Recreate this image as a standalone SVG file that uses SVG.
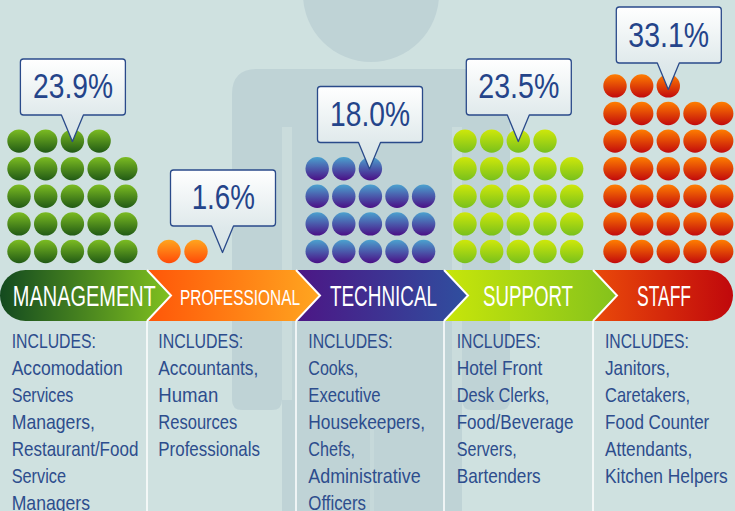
<svg xmlns="http://www.w3.org/2000/svg" width="735" height="511" viewBox="0 0 735 511">
<defs>
<style>
.pct{font-family:"Liberation Sans Narrow","Liberation Sans",Arial,sans-serif;font-size:35px;fill:#24448a;text-anchor:middle}
.lbl{font-family:"Liberation Sans Narrow","Liberation Sans",Arial,sans-serif;font-size:29px;fill:#ffffff;text-anchor:middle}
.desc{font-family:"Liberation Sans Narrow","Liberation Sans",Arial,sans-serif;font-size:21px;fill:#2d4d8d}
.bub{fill:url(#gBub);stroke:#2a4a8a;stroke-width:1.3;stroke-linejoin:round}
.sep{fill:none;stroke:#ffffff;stroke-width:2}
.sepl{stroke:#ffffff;stroke-opacity:0.75;stroke-width:2}
.sil{fill:#bfd3d6}
</style>
<linearGradient id="gBub" x1="0" y1="0" x2="0" y2="1"><stop offset="0" stop-color="#ffffff"/><stop offset="0.7" stop-color="#dfe9eb"/><stop offset="1" stop-color="#d6e4e6"/></linearGradient>
<linearGradient id="dM" x1="0" y1="0" x2="0" y2="1"><stop offset="0" stop-color="#7cbc22"/><stop offset="1" stop-color="#215a15"/></linearGradient>
<linearGradient id="dP" x1="0" y1="0" x2="0" y2="1"><stop offset="0" stop-color="#ffa51e"/><stop offset="1" stop-color="#ff4a08"/></linearGradient>
<linearGradient id="dT" x1="0" y1="0" x2="0" y2="1"><stop offset="0" stop-color="#4ba2cf"/><stop offset="1" stop-color="#4a0f86"/></linearGradient>
<linearGradient id="dS" x1="0" y1="0" x2="0" y2="1"><stop offset="0" stop-color="#cfe80a"/><stop offset="1" stop-color="#78c01c"/></linearGradient>
<linearGradient id="dF" x1="0" y1="0" x2="0" y2="1"><stop offset="0" stop-color="#ff7e00"/><stop offset="1" stop-color="#c20a0c"/></linearGradient>
<linearGradient id="bM" x1="0" y1="0" x2="1" y2="0"><stop offset="0" stop-color="#134a1f"/><stop offset="1" stop-color="#80c11f"/></linearGradient>
<linearGradient id="bP" x1="0" y1="0" x2="1" y2="0"><stop offset="0" stop-color="#ff5608"/><stop offset="1" stop-color="#ffa620"/></linearGradient>
<linearGradient id="bT" x1="0" y1="0" x2="1" y2="0"><stop offset="0" stop-color="#4c1685"/><stop offset="1" stop-color="#2f4f9f"/></linearGradient>
<linearGradient id="bS" x1="0" y1="0" x2="1" y2="0"><stop offset="0" stop-color="#c8e60a"/><stop offset="1" stop-color="#84c21c"/></linearGradient>
<linearGradient id="bF" x1="0" y1="0" x2="1" y2="0"><stop offset="0" stop-color="#ea4a0a"/><stop offset="1" stop-color="#c0080c"/></linearGradient>
<path id="bubble" d="M -49,-82.5 H 50 Q 53,-82.5 53,-79.5 V -29.5 Q 53,-26.5 50,-26.5 H 11 L 0,0 L -11,-26.5 H -49 Q -52,-26.5 -52,-29.5 V -79.5 Q -52,-82.5 -49,-82.5 Z"/>
</defs>

<rect x="0" y="0" width="735" height="511" fill="#cfe1e0"/>
<g id="silhouette">
<ellipse class="sil" cx="371" cy="-6" rx="68" ry="68"/>
<path class="sil" d="M 257,69 H 485 Q 510,69 510,94 V 400 Q 510,410 500,410 H 472 Q 462,410 462,400 V 511 H 282 V 400 Q 282,410 272,410 H 242 Q 232,410 232,400 V 94 Q 232,69 257,69 Z"/>
<rect x="282" y="127" width="10" height="273" fill="#cadcdc"/>
<rect x="452" y="127" width="10" height="273" fill="#cadcdc"/>
<rect x="292" y="320" width="160" height="191" class="sil"/>
<rect x="370" y="420" width="4" height="91" fill="#c6d9da"/>
</g>

<g id="management">
<path d="M 25.5,270 H 147 L 171,295.5 L 147,321 H 25.5 A 25.5,25.5 0 0 1 25.5,270 Z" fill="url(#bM)"/>
<g fill="url(#dM)">
<circle cx="19" cy="141.1" r="11.7"/><circle cx="45.7" cy="141.1" r="11.7"/><circle cx="72.4" cy="141.1" r="11.7"/><circle cx="99.1" cy="141.1" r="11.7"/>
<circle cx="19" cy="168.7" r="11.7"/><circle cx="45.7" cy="168.7" r="11.7"/><circle cx="72.4" cy="168.7" r="11.7"/><circle cx="99.1" cy="168.7" r="11.7"/><circle cx="125.8" cy="168.7" r="11.7"/>
<circle cx="19" cy="196.3" r="11.7"/><circle cx="45.7" cy="196.3" r="11.7"/><circle cx="72.4" cy="196.3" r="11.7"/><circle cx="99.1" cy="196.3" r="11.7"/><circle cx="125.8" cy="196.3" r="11.7"/>
<circle cx="19" cy="223.9" r="11.7"/><circle cx="45.7" cy="223.9" r="11.7"/><circle cx="72.4" cy="223.9" r="11.7"/><circle cx="99.1" cy="223.9" r="11.7"/><circle cx="125.8" cy="223.9" r="11.7"/>
<circle cx="19" cy="251.5" r="11.7"/><circle cx="45.7" cy="251.5" r="11.7"/><circle cx="72.4" cy="251.5" r="11.7"/><circle cx="99.1" cy="251.5" r="11.7"/><circle cx="125.8" cy="251.5" r="11.7"/>
</g>
<use href="#bubble" class="bub" transform="translate(72.4,141.5)"/>
<text class="pct" x="73" y="98" textLength="80" lengthAdjust="spacingAndGlyphs">23.9%</text>
<text class="lbl" x="84.3" y="306" textLength="143" lengthAdjust="spacingAndGlyphs">MANAGEMENT</text>
<text class="desc" x="11.7" y="347.5" textLength="84.3" lengthAdjust="spacingAndGlyphs">INCLUDES:</text>
<text class="desc" x="11.7" y="374.5" textLength="111" lengthAdjust="spacingAndGlyphs">Accomodation</text>
<text class="desc" x="11.7" y="401.5" textLength="61.7" lengthAdjust="spacingAndGlyphs">Services</text>
<text class="desc" x="11.7" y="428.5" textLength="83.3" lengthAdjust="spacingAndGlyphs">Managers,</text>
<text class="desc" x="11.7" y="455.5" textLength="126.7" lengthAdjust="spacingAndGlyphs">Restaurant/Food</text>
<text class="desc" x="11.7" y="482.5" textLength="54.3" lengthAdjust="spacingAndGlyphs">Service</text>
<text class="desc" x="11.7" y="509.5" textLength="78.3" lengthAdjust="spacingAndGlyphs">Managers</text>
</g>

<g id="professional">
<path d="M 147,270 H 296 L 320,295.5 L 296,321 H 147 L 171,295.5 Z" fill="url(#bP)"/>
<g fill="url(#dP)">
<circle cx="169" cy="251.5" r="11.7"/><circle cx="196" cy="251.5" r="11.7"/>
</g>
<use href="#bubble" class="bub" transform="translate(222.5,252.5)"/>
<text class="pct" x="223.3" y="209" textLength="63.3" lengthAdjust="spacingAndGlyphs">1.6%</text>
<text class="lbl" x="240" y="304.5" style="font-size:22px" textLength="120" lengthAdjust="spacingAndGlyphs">PROFESSIONAL</text>
<text class="desc" x="158.3" y="347.5" textLength="85" lengthAdjust="spacingAndGlyphs">INCLUDES:</text>
<text class="desc" x="158.3" y="374.5" textLength="100" lengthAdjust="spacingAndGlyphs">Accountants,</text>
<text class="desc" x="158.3" y="401.5" textLength="60" lengthAdjust="spacingAndGlyphs">Human</text>
<text class="desc" x="158.3" y="428.5" textLength="79" lengthAdjust="spacingAndGlyphs">Resources</text>
<text class="desc" x="158.3" y="455.5" textLength="101.7" lengthAdjust="spacingAndGlyphs">Professionals</text>
</g>

<g id="technical">
<path d="M 296,270 H 444 L 468,295.5 L 444,321 H 296 L 320,295.5 Z" fill="url(#bT)"/>
<g fill="url(#dT)">
<circle cx="317.2" cy="168.7" r="11.7"/><circle cx="343.8" cy="168.7" r="11.7"/><circle cx="370.4" cy="168.7" r="11.7"/>
<circle cx="317.2" cy="196.3" r="11.7"/><circle cx="343.8" cy="196.3" r="11.7"/><circle cx="370.4" cy="196.3" r="11.7"/><circle cx="397" cy="196.3" r="11.7"/><circle cx="423.6" cy="196.3" r="11.7"/>
<circle cx="317.2" cy="223.9" r="11.7"/><circle cx="343.8" cy="223.9" r="11.7"/><circle cx="370.4" cy="223.9" r="11.7"/><circle cx="397" cy="223.9" r="11.7"/><circle cx="423.6" cy="223.9" r="11.7"/>
<circle cx="317.2" cy="251.5" r="11.7"/><circle cx="343.8" cy="251.5" r="11.7"/><circle cx="370.4" cy="251.5" r="11.7"/><circle cx="397" cy="251.5" r="11.7"/><circle cx="423.6" cy="251.5" r="11.7"/>
</g>
<use href="#bubble" class="bub" transform="translate(369.5,169)"/>
<text class="pct" x="370" y="125.5" textLength="80" lengthAdjust="spacingAndGlyphs">18.0%</text>
<text class="lbl" x="383.5" y="306" textLength="107" lengthAdjust="spacingAndGlyphs">TECHNICAL</text>
<text class="desc" x="308.3" y="347.5" textLength="84.3" lengthAdjust="spacingAndGlyphs">INCLUDES:</text>
<text class="desc" x="308.3" y="374.5" textLength="50" lengthAdjust="spacingAndGlyphs">Cooks,</text>
<text class="desc" x="308.3" y="401.5" textLength="72.3" lengthAdjust="spacingAndGlyphs">Executive</text>
<text class="desc" x="308.3" y="428.5" textLength="116.7" lengthAdjust="spacingAndGlyphs">Housekeepers,</text>
<text class="desc" x="308.3" y="455.5" textLength="46.7" lengthAdjust="spacingAndGlyphs">Chefs,</text>
<text class="desc" x="308.3" y="482.5" textLength="112.3" lengthAdjust="spacingAndGlyphs">Administrative</text>
<text class="desc" x="308.3" y="509.5" textLength="57.7" lengthAdjust="spacingAndGlyphs">Officers</text>
</g>

<g id="support">
<path d="M 444,270 H 593 L 617,295.5 L 593,321 H 444 L 468,295.5 Z" fill="url(#bS)"/>
<g fill="url(#dS)">
<circle cx="465" cy="141.1" r="11.7"/><circle cx="491.7" cy="141.1" r="11.7"/><circle cx="518.3" cy="141.1" r="11.7"/><circle cx="545" cy="141.1" r="11.7"/>
<circle cx="465" cy="168.7" r="11.7"/><circle cx="491.7" cy="168.7" r="11.7"/><circle cx="518.3" cy="168.7" r="11.7"/><circle cx="545" cy="168.7" r="11.7"/><circle cx="571.7" cy="168.7" r="11.7"/>
<circle cx="465" cy="196.3" r="11.7"/><circle cx="491.7" cy="196.3" r="11.7"/><circle cx="518.3" cy="196.3" r="11.7"/><circle cx="545" cy="196.3" r="11.7"/><circle cx="571.7" cy="196.3" r="11.7"/>
<circle cx="465" cy="223.9" r="11.7"/><circle cx="491.7" cy="223.9" r="11.7"/><circle cx="518.3" cy="223.9" r="11.7"/><circle cx="545" cy="223.9" r="11.7"/><circle cx="571.7" cy="223.9" r="11.7"/>
<circle cx="465" cy="251.5" r="11.7"/><circle cx="491.7" cy="251.5" r="11.7"/><circle cx="518.3" cy="251.5" r="11.7"/><circle cx="545" cy="251.5" r="11.7"/><circle cx="571.7" cy="251.5" r="11.7"/>
</g>
<use href="#bubble" class="bub" transform="translate(518.3,141.5)"/>
<text class="pct" x="518.8" y="98" textLength="81" lengthAdjust="spacingAndGlyphs">23.5%</text>
<text class="lbl" x="528" y="306" textLength="90" lengthAdjust="spacingAndGlyphs">SUPPORT</text>
<text class="desc" x="456.7" y="347.5" textLength="84" lengthAdjust="spacingAndGlyphs">INCLUDES:</text>
<text class="desc" x="456.7" y="374.5" textLength="85.7" lengthAdjust="spacingAndGlyphs">Hotel Front</text>
<text class="desc" x="456.7" y="401.5" textLength="92.7" lengthAdjust="spacingAndGlyphs">Desk Clerks,</text>
<text class="desc" x="456.7" y="428.5" textLength="116.7" lengthAdjust="spacingAndGlyphs">Food/Beverage</text>
<text class="desc" x="456.7" y="455.5" textLength="60" lengthAdjust="spacingAndGlyphs">Servers,</text>
<text class="desc" x="456.7" y="482.5" textLength="84" lengthAdjust="spacingAndGlyphs">Bartenders</text>
</g>

<g id="staff">
<path d="M 593,270 H 707.5 A 25.5,25.5 0 0 1 707.5,321 H 593 L 617,295.5 Z" fill="url(#bF)"/>
<g fill="url(#dF)">
<circle cx="615" cy="85.9" r="11.7"/><circle cx="641.7" cy="85.9" r="11.7"/><circle cx="668.3" cy="85.9" r="11.7"/>
<circle cx="615" cy="113.5" r="11.7"/><circle cx="641.7" cy="113.5" r="11.7"/><circle cx="668.3" cy="113.5" r="11.7"/><circle cx="695" cy="113.5" r="11.7"/><circle cx="721.7" cy="113.5" r="11.7"/>
<circle cx="615" cy="141.1" r="11.7"/><circle cx="641.7" cy="141.1" r="11.7"/><circle cx="668.3" cy="141.1" r="11.7"/><circle cx="695" cy="141.1" r="11.7"/><circle cx="721.7" cy="141.1" r="11.7"/>
<circle cx="615" cy="168.7" r="11.7"/><circle cx="641.7" cy="168.7" r="11.7"/><circle cx="668.3" cy="168.7" r="11.7"/><circle cx="695" cy="168.7" r="11.7"/><circle cx="721.7" cy="168.7" r="11.7"/>
<circle cx="615" cy="196.3" r="11.7"/><circle cx="641.7" cy="196.3" r="11.7"/><circle cx="668.3" cy="196.3" r="11.7"/><circle cx="695" cy="196.3" r="11.7"/><circle cx="721.7" cy="196.3" r="11.7"/>
<circle cx="615" cy="223.9" r="11.7"/><circle cx="641.7" cy="223.9" r="11.7"/><circle cx="668.3" cy="223.9" r="11.7"/><circle cx="695" cy="223.9" r="11.7"/><circle cx="721.7" cy="223.9" r="11.7"/>
<circle cx="615" cy="251.5" r="11.7"/><circle cx="641.7" cy="251.5" r="11.7"/><circle cx="668.3" cy="251.5" r="11.7"/><circle cx="695" cy="251.5" r="11.7"/><circle cx="721.7" cy="251.5" r="11.7"/>
</g>
<use href="#bubble" class="bub" transform="translate(668.3,89.5)"/>
<text class="pct" x="668.7" y="46.5" textLength="80.7" lengthAdjust="spacingAndGlyphs">33.1%</text>
<text class="lbl" x="664" y="306" textLength="54" lengthAdjust="spacingAndGlyphs">STAFF</text>
<text class="desc" x="605" y="347.5" textLength="84" lengthAdjust="spacingAndGlyphs">INCLUDES:</text>
<text class="desc" x="605" y="374.5" textLength="65" lengthAdjust="spacingAndGlyphs">Janitors,</text>
<text class="desc" x="605" y="401.5" textLength="85" lengthAdjust="spacingAndGlyphs">Caretakers,</text>
<text class="desc" x="605" y="428.5" textLength="104.3" lengthAdjust="spacingAndGlyphs">Food Counter</text>
<text class="desc" x="605" y="455.5" textLength="87.3" lengthAdjust="spacingAndGlyphs">Attendants,</text>
<text class="desc" x="605" y="482.5" textLength="122.7" lengthAdjust="spacingAndGlyphs">Kitchen Helpers</text>
</g>

<g id="separators">
<path class="sep" d="M 147,270 L 171,295.5 L 147,321"/>
<path class="sep" d="M 296,270 L 320,295.5 L 296,321"/>
<path class="sep" d="M 444,270 L 468,295.5 L 444,321"/>
<path class="sep" d="M 593,270 L 617,295.5 L 593,321"/>
<line class="sepl" x1="147" y1="321" x2="147" y2="511"/>
<line class="sepl" x1="296" y1="321" x2="296" y2="511"/>
<line class="sepl" x1="444" y1="321" x2="444" y2="511"/>
<line class="sepl" x1="593" y1="321" x2="593" y2="511"/>
</g>
</svg>
